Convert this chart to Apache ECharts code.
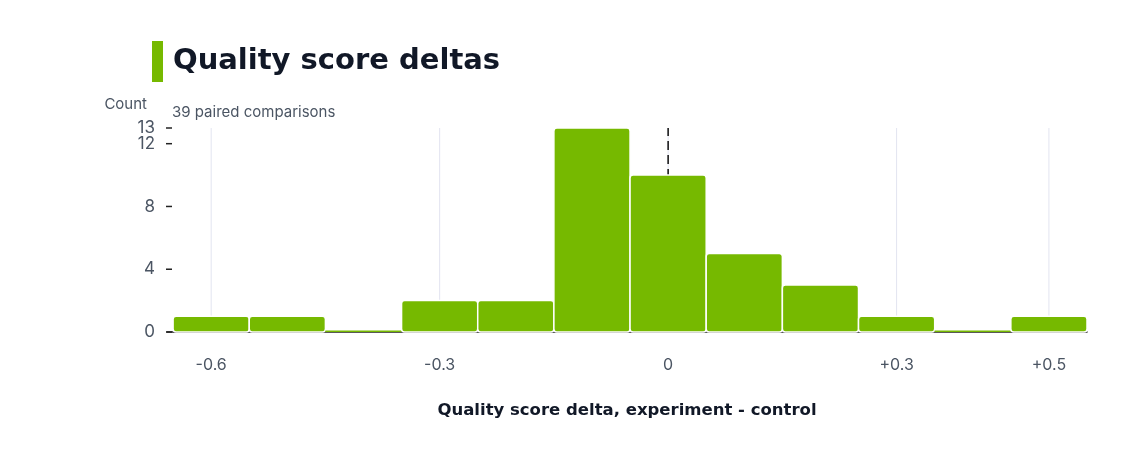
<!DOCTYPE html>
<html>
<head>
<meta charset="utf-8">
<script src="https://cdn.jsdelivr.net/npm/echarts@6/dist/echarts.min.js"></script>
<style>
  html, body { margin: 0; padding: 0; background: #fff; }
  #chart { width: 1148px; height: 459px; }
</style>
</head>
<body>
<div id="chart"></div>
<script>
// bins of width 0.1, centred on these values
const binCenters = [-0.6, -0.5, -0.4, -0.3, -0.2, -0.1, 0, 0.1, 0.2, 0.3, 0.4, 0.5];
const counts = [1, 1, 0, 2, 2, 13, 10, 5, 3, 1, 0, 1];
const xTicks = [-0.6, -0.3, 0, 0.3, 0.5];
const yTicks = [0, 4, 8, 12, 13];
const binWidth = 0.1;

const GREEN = '#76b900';
const INK = '#111827';
const MUTED = '#4b5563';
const FONT = 'Inter, "Noto Sans", sans-serif';
const BOLD_FONT = '"DejaVu Sans", Inter, sans-serif';

const X_MIN = -0.658;
const X_MAX = 0.55;

const chart = echarts.init(document.getElementById('chart'));

function fmtX(v) {
  const r = Math.round(v * 10) / 10;
  if (r === 0) return '0';
  return (r > 0 ? '+' : '') + r.toFixed(1);
}

const option = {
  animation: false,
  textStyle: { fontFamily: FONT },
  graphic: [
    { type: 'rect', left: 152, top: 41, shape: { width: 11, height: 41 }, style: { fill: GREEN } },
    { type: 'text', left: 173, top: 47, style: { text: 'Quality score deltas', fill: INK, font: 'bold 29px ' + BOLD_FONT } },
    { type: 'text', left: 172, top: 105, style: { text: '39 paired comparisons', fill: MUTED, font: '15px ' + FONT } }
  ],
  grid: { left: 167, right: 61, top: 128, bottom: 127 },
  xAxis: {
    type: 'value',
    min: X_MIN,
    max: X_MAX,
    name: 'Quality score delta, experiment - control',
    nameLocation: 'middle',
    nameGap: 70,
    nameTextStyle: { color: INK, fontSize: 16.5, fontWeight: 'bold', fontFamily: BOLD_FONT },
    axisLine: { show: true, onZero: false, lineStyle: { color: '#222', width: 1.5 } },
    axisTick: { show: false },
    splitLine: { show: false },
    axisLabel: {
      customValues: xTicks,
      margin: 25,
      color: MUTED,
      fontSize: 16,
      formatter: fmtX
    }
  },
  yAxis: {
    type: 'value',
    min: 0,
    max: 13,
    name: 'Count',
    nameLocation: 'end',
    nameGap: 16,
    nameTextStyle: { color: MUTED, fontSize: 15, align: 'right', padding: [0, 20, 0, 0] },
    axisLine: { show: false, onZero: false },
    axisTick: { show: false },
    splitLine: { show: false },
    axisLabel: { show: false }
  },
  series: [
    {
      // vertical gridlines at the labelled x positions
      type: 'custom',
      z: 1,
      silent: true,
      data: xTicks.map(v => [v]),
      renderItem: function (params, api) {
        const p0 = api.coord([api.value(0), 0]);
        const p1 = api.coord([api.value(0), 13]);
        return {
          type: 'line',
          shape: { x1: p0[0], y1: p0[1], x2: p1[0], y2: p1[1] },
          style: { stroke: '#e2e4f0', lineWidth: 1 }
        };
      }
    },
    {
      // y ticks and labels
      type: 'custom',
      z: 2,
      silent: true,
      data: yTicks.map(v => [v]),
      renderItem: function (params, api) {
        const v = api.value(0);
        const p = api.coord([X_MIN, v]);
        return {
          type: 'group',
          children: [
            {
              type: 'line',
              shape: { x1: p[0] - 1, y1: p[1], x2: p[0] + 5, y2: p[1] },
              style: { stroke: '#222', lineWidth: 1.5 }
            },
            {
              type: 'text',
              x: p[0] - 12,
              y: p[1],
              style: { text: String(v), fill: MUTED, font: '17px ' + FONT, align: 'right', verticalAlign: 'middle' }
            }
          ]
        };
      }
    },
    {
      type: 'custom',
      z: 2,
      silent: true,
      data: [[0]],
      renderItem: function (params, api) {
        const p0 = api.coord([0, 0]);
        const p1 = api.coord([0, 13]);
        return {
          type: 'line',
          shape: { x1: p0[0], y1: p0[1], x2: p1[0], y2: p1[1] },
          style: { stroke: '#111', lineWidth: 1.5, lineDash: [9, 5] }
        };
      }
    },
    {
      type: 'custom',
      z: 3,
      data: binCenters.map((c, i) => [c, counts[i]]),
      renderItem: function (params, api) {
        const c = api.value(0);
        const n = api.value(1);
        const a = api.coord([c - binWidth / 2, n]);
        const b = api.coord([c + binWidth / 2, 0]);
        if (n === 0) {
          return {
            type: 'rect',
            shape: { x: a[0], y: b[1] - 1.5, width: b[0] - a[0], height: 1.5 },
            style: { fill: GREEN }
          };
        }
        return {
          type: 'rect',
          shape: { x: a[0], y: a[1], width: b[0] - a[0], height: b[1] - a[1], r: 3 },
          style: { fill: GREEN, stroke: '#fff', lineWidth: 1.5 }
        };
      }
    }
  ]
};

chart.setOption(option);
</script>
</body>
</html>
